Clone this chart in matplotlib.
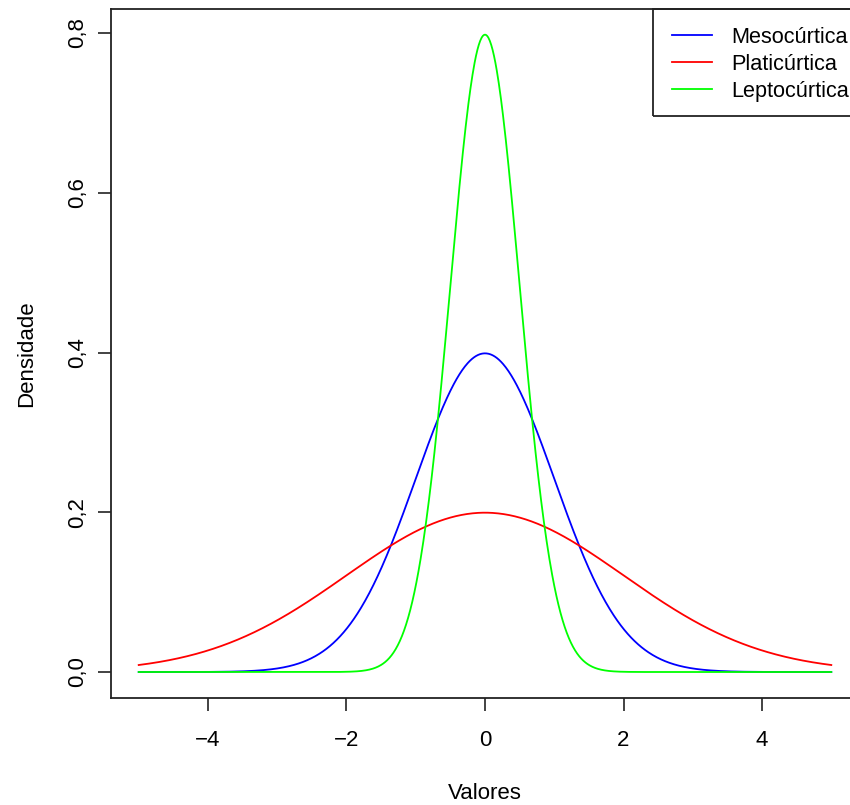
import numpy as np
import matplotlib
matplotlib.use("Agg")
import matplotlib.pyplot as plt
from matplotlib.ticker import FuncFormatter
from matplotlib.patches import Rectangle

# Curve definitions (normal densities, mean 0)
labels = ["Mesocúrtica", "Platicúrtica", "Leptocúrtica"]
means = [0.0, 0.0, 0.0]
sds = [1.0, 2.0, 0.5]
colors = ["#0000ff", "#ff0000", "#00ff00"]
x_range = [-5, 5]
xticks = [-4, -2, 0, 2, 4]
yticks = [0.0, 0.2, 0.4, 0.6, 0.8]

plt.rcParams['font.family'] = ['Liberation Sans', 'DejaVu Sans']

fig = plt.figure(figsize=(8.5, 8.05), dpi=100)
ax = fig.add_axes([111/850, 1-697.5/805, (859-111)/850, (697.5-9.2)/805])

x = np.linspace(x_range[0], x_range[1], 1001)
for lab, m, s, c in zip(labels, means, sds, colors):
    y = np.exp(-0.5*((x-m)/s)**2)/(s*np.sqrt(2*np.pi))
    ax.plot(x, y, color=c, lw=1.3, label=lab)

ymax = 1/(min(sds)*np.sqrt(2*np.pi))
ax.set_xlim(-5.4, 5.4)
ax.set_ylim(-0.04*ymax, ymax*1.04)
ax.set_xticks(xticks)
ax.set_yticks(yticks)
ax.xaxis.set_major_formatter(FuncFormatter(lambda v, p: f"{v:.0f}".replace("-", "\u2212")))
ax.yaxis.set_major_formatter(FuncFormatter(lambda v, p: f"{v:.1f}".replace(".", ",")))
ax.tick_params(direction='out', length=13*0.72, width=1.2, labelsize=16, color='#222222')
ax.tick_params(axis='x', pad=14)
ax.tick_params(axis='y', pad=7)
for lbl in ax.get_yticklabels():
    lbl.set_rotation(90)
    lbl.set_va('center')
for sp in ax.spines.values():
    sp.set_linewidth(1.3)
    sp.set_color('#222222')

ax.set_xlabel("Valores", fontsize=16, labelpad=23)
ax.set_ylabel("Densidade", fontsize=16, labelpad=22)

# legend box (frame) drawn as a rectangle anchored at the top-right corner
y0 = (697.5-115.7)/688.3
ax.add_patch(Rectangle(((653-111)/748, y0), 0.3, 1.0-y0,
                       transform=ax.transAxes, fill=False, edgecolor='#222222',
                       linewidth=1.3, clip_on=False, zorder=5))
leg = ax.legend(loc='upper left', bbox_to_anchor=((672-111)/748, (697.5-27)/688.3),
                borderaxespad=0, borderpad=0, frameon=False,
                fontsize=15.6, handlelength=1.85, handletextpad=0.88,
                labelspacing=0.27)

fig.savefig("out.png", dpi=100)
